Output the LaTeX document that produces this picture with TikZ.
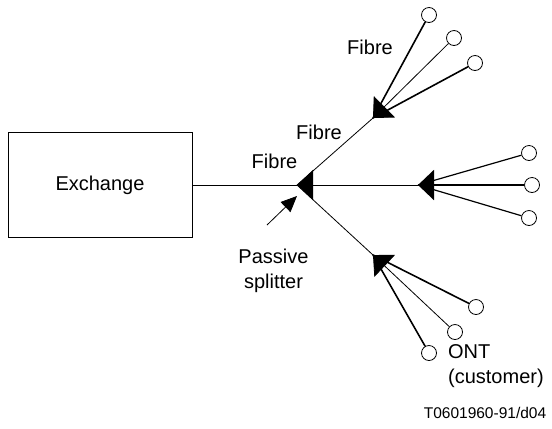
\documentclass[tikz,border=0pt]{standalone}
\usepackage{fontspec}
\setmainfont{Liberation Sans}
\usetikzlibrary{arrows.meta}

\begin{document}
\begin{tikzpicture}[x=1bp, y=-1bp, line width=0.8bp,
    font=\fontsize{20bp}{25bp}\selectfont,
    ont/.style={circle, draw, fill=white, minimum size=15bp, inner sep=0pt, line width=0.8bp},
    split/.style={-{Triangle[length=16bp, width=30bp]}},
    heavy/.style={line width=1.6bp}]
    \useasboundingbox (0,0) rectangle (552,428);

    \node[draw, minimum width=184bp, minimum height=105bp] (exch) at (100,185) {Exchange};

    \coordinate (s0) at (297,185);
    \coordinate (s1) at (373,118);
    \coordinate (s2) at (373,255);
    \coordinate (s3) at (418,185);

    \draw (exch) -- (s0);
    \draw (s0) -- (s1);
    \draw (s0) -- (s2);
    \draw[split] (s3) -- (s0);

    % upper fan
    \begin{scope}
      \node[ont] (o11) at (429,15) {};
      \node[ont] (o12) at (454,38) {};
      \node[ont] (o13) at (475,63) {};
      \draw[heavy] (o11) -- (s1);
      \draw[heavy] (o13) -- (s1);
      \draw[split] (o12) -- (s1);
    \end{scope}

    % right fan
    \begin{scope}
      \node[ont] (o21) at (529,153) {};
      \node[ont] (o22) at (532,185) {};
      \node[ont] (o23) at (529,218) {};
      \draw[line width=1.2bp] (o21) -- (s3);
      \draw[line width=1.2bp] (o23) -- (s3);
      \draw[split, line width=2.2bp] (o22) -- (s3);
    \end{scope}

    % lower fan
    \begin{scope}
      \node[ont] (o31) at (476,307) {};
      \node[ont] (o32) at (455,332) {};
      \node[ont] (o33) at (429,353) {};
      \draw[heavy] (o31) -- (s2);
      \draw[heavy] (o33) -- (s2);
      \draw[split] (o32) -- (s2);
    \end{scope}

    \node (f0) at (274.5,161) {Fibre};
    \node (f1) at (319,132) {Fibre};
    \node (f2) at (370,47) {Fibre};

    \node[align=center] (pas) at (273.5,271) {Passive\\splitter};
    \coordinate (ptail) at (267,225);
    \coordinate (ptip) at (297,196);
    \draw[-{Triangle[length=16bp, width=14bp]}] (ptail) -- (ptip);

    \node[anchor=west, align=left] (cust) at (444.4,366) {ONT\\(customer)};

    \node[font=\fontsize{15.5bp}{18bp}\selectfont] (ref) at (485,413) {T0601960-91/d04};
\end{tikzpicture}
\end{document}
